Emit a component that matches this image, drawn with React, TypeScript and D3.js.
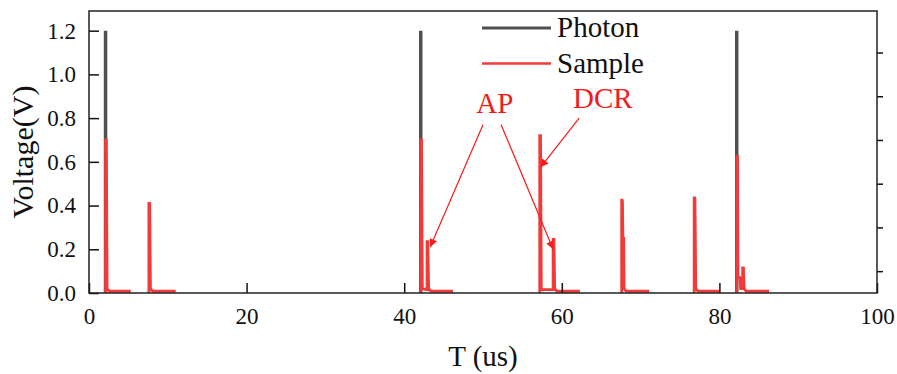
import React, { useEffect, useRef } from 'react';
import * as d3 from 'd3';

// time axis (us) and voltage (V)
const xTicks = [0, 20, 40, 60, 80, 100];
const yTicks = [0, 0.2, 0.4, 0.6, 0.8, 1.0, 1.2];
const rightTicks = [0.1, 0.3, 0.5, 0.7, 0.9, 1.1];

// Photon pulses (null breaks the line)
const photonT = [2.1, 2.1, null, 42.1, 42.1, null, 82.2, 82.2];
const photonV = [0, 1.2, null, 0, 1.2, null, 0, 1.2];

// Sample waveform
const sampleT = [
  2.1, 2.1, 2.2, 2.3, 2.6, 5.3, null,
  7.6, 7.6, 7.7, 7.8, 8.1, 11.0, null,
  42.1, 42.1, 42.2, 42.3, 42.9, 42.9, 43.0, 43.1, 43.4, 46.2, null,
  57.2, 57.2, 57.3, 57.4, 58.9, 58.9, 59.0, 59.1, 59.4, 62.3, null,
  67.6, 67.6, 67.7, 67.75, 67.85, 67.9, 68.2, 71.1, null,
  76.8, 76.8, 76.9, 77.0, 77.3, 80.0, null,
  82.2, 82.2, 82.3, 82.35, 82.6, 82.7, 82.95, 82.95, 83.05, 83.15, 83.4, 86.3,
];
const sampleV = [
  0, 0.70, 0.70, 0.02, 0.008, 0.008, null,
  0, 0.41, 0.41, 0.02, 0.008, 0.008, null,
  0, 0.70, 0.70, 0.02, 0.015, 0.235, 0.235, 0.02, 0.008, 0.008, null,
  0, 0.72, 0.72, 0.015, 0.015, 0.245, 0.245, 0.02, 0.008, 0.008, null,
  0, 0.43, 0.42, 0.25, 0.25, 0.02, 0.008, 0.008, null,
  0, 0.44, 0.43, 0.02, 0.008, 0.008, null,
  0, 0.625, 0.625, 0.07, 0.07, 0.02, 0.02, 0.115, 0.115, 0.02, 0.008, 0.008,
];

// annotation arrows: [fromT, fromV, toT, toV]
const arrows = [
  [50.0, 0.77, 43.3, 0.21],
  [52.3, 0.77, 58.9, 0.2],
  [62.2, 0.8, 57.3, 0.575],
];
const labels = [
  { text: 'AP', t: 51.5, v: 0.825 },
  { text: 'DCR', t: 65.2, v: 0.847 },
];

const legendItems = [
  { name: 'Photon', color: '#505050' },
  { name: 'Sample', color: '#f23a3a' },
];

const W = 897;
const H = 374;
const margin = { top: 11, right: 20, bottom: 81, left: 89 };
const FONT = '"Liberation Serif", "Times New Roman", serif';

export default function App() {
  const ref = useRef<SVGSVGElement>(null);

  useEffect(() => {
    const svg = d3.select(ref.current);
    svg.selectAll('*').remove();

    const x = d3.scaleLinear().domain([0, 100]).range([margin.left, W - margin.right]);
    const y = d3.scaleLinear().domain([0, 1.29]).range([H - margin.bottom, margin.top]);

    const defs = svg.append('defs');
    defs.append('marker')
      .attr('id', 'arr')
      .attr('viewBox', '0 0 10 10')
      .attr('refX', 10)
      .attr('refY', 5)
      .attr('markerWidth', 13)
      .attr('markerHeight', 8)
      .attr('markerUnits', 'userSpaceOnUse')
      .attr('orient', 'auto')
      .append('path')
      .attr('d', 'M0,0 L10,5 L0,10 z')
      .attr('fill', '#f21c1c');

    const line = d3.line<[number | null, number | null]>()
      .defined((d) => d[0] !== null && d[1] !== null)
      .x((d) => x(d[0] as number))
      .y((d) => y(d[1] as number));

    const photon = photonT.map((t, i) => [t, photonV[i]] as [number | null, number | null]);
    const sample = sampleT.map((t, i) => [t, sampleV[i]] as [number | null, number | null]);

    svg.append('path')
      .attr('d', line(photon))
      .attr('fill', 'none')
      .attr('stroke', legendItems[0].color)
      .attr('stroke-width', 3.5);

    svg.append('path')
      .attr('d', line(sample))
      .attr('fill', 'none')
      .attr('stroke', legendItems[1].color)
      .attr('stroke-width', 2.8)
      .attr('stroke-linejoin', 'miter');

    // axes
    const styleAxis = (g: any, size: number) => {
      g.select('.domain').remove();
      g.selectAll('line').attr('stroke', '#111').attr('stroke-width', 1.5);
      g.selectAll('text')
        .attr('fill', '#111')
        .style('font-family', FONT)
        .style('font-size', size + 'px');
    };

    svg.append('g')
      .attr('transform', `translate(${margin.left},0)`)
      .call(d3.axisLeft(y).tickValues(yTicks).tickSize(-10).tickPadding(13).tickFormat(d3.format('.1f')) as any)
      .call((g: any) => styleAxis(g, 23));

    svg.append('g')
      .attr('transform', `translate(0,${H - margin.bottom})`)
      .call(d3.axisBottom(x).tickValues(xTicks).tickSize(-10).tickPadding(15).tickFormat(d3.format('d')) as any)
      .call((g: any) => styleAxis(g, 23));

    svg.append('g')
      .attr('transform', `translate(${W - margin.right},0)`)
      .call(d3.axisRight(y).tickValues(rightTicks).tickSize(6).tickFormat(() => '') as any)
      .call((g: any) => styleAxis(g, 23));

    // frame
    svg.append('rect')
      .attr('x', margin.left)
      .attr('y', margin.top)
      .attr('width', W - margin.left - margin.right)
      .attr('height', H - margin.top - margin.bottom)
      .attr('fill', 'none')
      .attr('stroke', '#222')
      .attr('stroke-width', 1.5);

    // axis titles
    svg.append('text')
      .attr('transform', `translate(33,${(margin.top + H - margin.bottom) / 2}) rotate(-90)`)
      .attr('text-anchor', 'middle')
      .style('font-family', FONT)
      .style('font-size', '30px')
      .attr('fill', '#111')
      .text('Voltage(V)');

    svg.append('text')
      .attr('x', (margin.left + W - margin.right) / 2)
      .attr('y', 366)
      .attr('text-anchor', 'middle')
      .style('font-family', FONT)
      .style('font-size', '29px')
      .attr('fill', '#111')
      .text('T (us)');

    // legend
    const legend = svg.append('g');
    legendItems.forEach((item, i) => {
      const ly = 28 + i * 35.5;
      legend.append('line')
        .attr('x1', 482).attr('x2', 551)
        .attr('y1', ly).attr('y2', ly)
        .attr('stroke', item.color)
        .attr('stroke-width', i === 0 ? 3 : 2.5);
      legend.append('text')
        .attr('x', 557)
        .attr('y', ly + 9)
        .style('font-family', FONT)
        .style('font-size', '29px')
        .attr('fill', '#111')
        .text(item.name);
    });

    // annotations
    svg.selectAll('.arrow')
      .data(arrows)
      .join('line')
      .attr('class', 'arrow')
      .attr('x1', (d) => x(d[0]))
      .attr('y1', (d) => y(d[1]))
      .attr('x2', (d) => x(d[2]))
      .attr('y2', (d) => y(d[3]))
      .attr('stroke', '#f21c1c')
      .attr('stroke-width', 1.2)
      .attr('marker-end', 'url(#arr)');

    svg.selectAll('.label')
      .data(labels)
      .join('text')
      .attr('class', 'label')
      .attr('x', (d) => x(d.t))
      .attr('y', (d) => y(d.v))
      .attr('text-anchor', 'middle')
      .style('font-family', FONT)
      .style('font-size', '29px')
      .attr('fill', '#f21c1c')
      .text((d) => d.text);
  }, []);

  return (
    <svg ref={ref} width={W} height={H} style={{ position: 'absolute', left: 0, top: 0, background: '#fff' }}></svg>
  );
}
